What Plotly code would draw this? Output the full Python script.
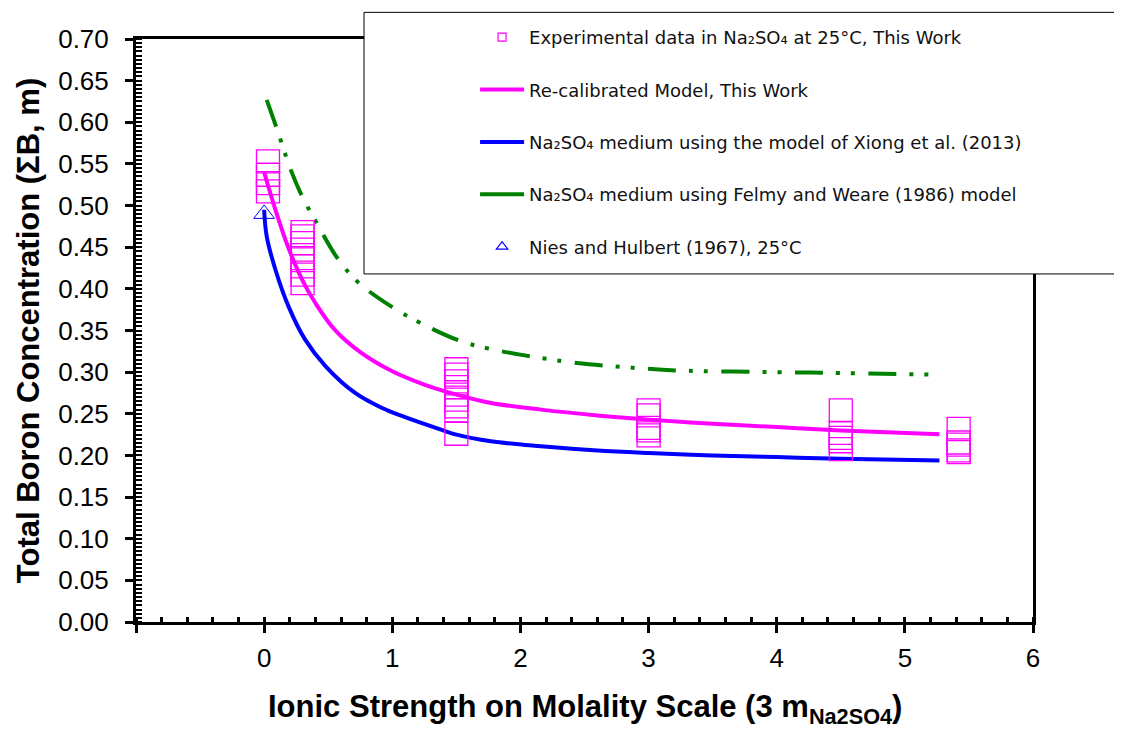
import plotly.graph_objects as go

# ---------------- data ----------------
exp_I = [0.03, 0.03, 0.03, 0.03,
         0.30, 0.30, 0.30, 0.30, 0.30, 0.30, 0.30, 0.30,
         1.50, 1.50, 1.50, 1.50, 1.50, 1.50, 1.50, 1.50, 1.50,
         3.00, 3.00, 3.00, 3.00, 3.00,
         4.50, 4.50, 4.50, 4.50, 4.50,
         5.42, 5.42, 5.42, 5.42, 5.42]
exp_B = [0.553, 0.537, 0.527, 0.517,
         0.468, 0.463, 0.455, 0.447, 0.437, 0.427, 0.417, 0.407,
         0.3035, 0.297, 0.289, 0.282, 0.273, 0.267, 0.259, 0.254, 0.226,
         0.254, 0.248, 0.233, 0.230, 0.224,
         0.254, 0.227, 0.221, 0.217, 0.2075,
         0.232, 0.2155, 0.213, 0.206, 0.204]

recal_I = [0.0, 0.09, 0.19, 0.30, 0.40, 0.55, 0.75, 1.0, 1.25, 1.5, 1.77, 2.16, 2.6, 3.0, 3.5, 4.0, 4.5, 5.27]
recal_B = [0.540, 0.494, 0.449, 0.410, 0.383, 0.351, 0.324, 0.301, 0.285, 0.273, 0.263, 0.255, 0.248, 0.243, 0.238, 0.234, 0.230, 0.2255]

xiong_I = [0.0, 0.02, 0.09, 0.19, 0.32, 0.48, 0.71, 0.92, 1.1, 1.38, 1.5, 1.77, 2.16, 2.6, 3.0, 3.5, 4.0, 4.5, 5.27]
xiong_B = [0.495, 0.463, 0.422, 0.379, 0.339, 0.307, 0.275, 0.257, 0.246, 0.231, 0.225, 0.217, 0.211, 0.206, 0.203, 0.200, 0.198, 0.196, 0.194]

felmy_I = [0.02, 0.10, 0.21, 0.30, 0.41, 0.58, 0.74, 1.0, 1.22, 1.52, 1.76, 2.08, 2.44, 2.9, 3.23, 4.0, 4.5, 5.2]
felmy_B = [0.627, 0.592, 0.542, 0.510, 0.479, 0.435, 0.407, 0.378, 0.359, 0.338, 0.328, 0.319, 0.311, 0.305, 0.302, 0.300, 0.299, 0.297]

nies_I = [0.0]
nies_B = [0.490]

x_tickvals = [-1, 0, 1, 2, 3, 4, 5, 6]
x_ticktext = ["", "0", "1", "2", "3", "4", "5", "6"]

x_title = "<b>Ionic Strength on Molality Scale (3 m<sub>Na2SO4</sub>)</b>"
y_title = "<b>Total Boron Concentration (\u03a3B, m)</b>"

legend_names = [
    "Experimental data in Na\u2082SO\u2084 at 25\u00b0C, This Work",
    "Re-calibrated Model, This Work",
    "Na\u2082SO\u2084 medium using the model of Xiong et al. (2013)",
    "Na\u2082SO\u2084 medium using Felmy and Weare (1986) model",
    "Nies and Hulbert (1967), 25\u00b0C",
]

MAG = "#FF00FF"
BLUE = "#0000FF"
GREEN = "#008000"

fig = go.Figure()

# ---------------- plotted traces ----------------
fig.add_trace(go.Scatter(x=felmy_I, y=felmy_B, mode="lines", showlegend=False,
                         line=dict(color=GREEN, width=4, shape="spline",
                                   dash="28px,13px,4px,11px,4px,13.5px")))
fig.add_trace(go.Scatter(x=xiong_I, y=xiong_B, mode="lines", showlegend=False,
                         line=dict(color=BLUE, width=4, shape="spline")))
fig.add_trace(go.Scatter(x=recal_I, y=recal_B, mode="lines", showlegend=False,
                         line=dict(color=MAG, width=4, shape="spline")))
fig.add_trace(go.Scatter(x=exp_I, y=exp_B, mode="markers", showlegend=False,
                         marker=dict(symbol="square-open", size=23, color=MAG,
                                     line=dict(color=MAG, width=1.3))))
fig.add_trace(go.Scatter(x=nies_I, y=nies_B, mode="markers", showlegend=False,
                         marker=dict(symbol="triangle-up-open", size=18, color=BLUE,
                                     line=dict(color=BLUE, width=1))))

# ---------------- legend entries ----------------
fig.add_trace(go.Scatter(x=[None], y=[None], mode="markers", name=legend_names[0],
                         legendgroup="a",
                         marker=dict(symbol="square-open", size=8, color=MAG,
                                     line=dict(color=MAG, width=1.2))))
fig.add_trace(go.Scatter(x=[None], y=[None], mode="lines", name=legend_names[1],
                         legendgroup="b", line=dict(color=MAG, width=4)))
fig.add_trace(go.Scatter(x=[None], y=[None], mode="lines", name=legend_names[2],
                         legendgroup="c", line=dict(color=BLUE, width=4)))
fig.add_trace(go.Scatter(x=[None], y=[None], mode="lines", name=legend_names[3],
                         legendgroup="d", line=dict(color=GREEN, width=4)))
fig.add_trace(go.Scatter(x=[None], y=[None], mode="markers", name=legend_names[4],
                         legendgroup="e",
                         marker=dict(symbol="triangle-up-open", size=10, color=BLUE,
                                     line=dict(color=BLUE, width=1.2))))

TICKFONT = dict(family="Liberation Sans, Arial, sans-serif", size=26, color="black")
TITLEFONT = dict(family="Liberation Sans, Arial, sans-serif", size=31, color="black")

fig.update_xaxes(
    range=[-1, 6], tickmode="array", tickvals=x_tickvals, ticktext=x_ticktext,
    ticks="outside", ticklen=8, tickwidth=3, tickcolor="black",
    showline=True, linewidth=3, linecolor="black", mirror=True,
    showgrid=False, zeroline=False, tickfont=TICKFONT, ticklabelstandoff=3,
    minor=dict(ticks="inside", dtick=0.2, tick0=0, ticklen=5, tickwidth=2.5,
               tickcolor="black", showgrid=False),
)
fig.update_yaxes(
    range=[0, 0.70], dtick=0.05, tick0=0, tickformat=".2f",
    ticks="outside", ticklen=8, tickwidth=3, tickcolor="black",
    showline=True, linewidth=3, linecolor="black", mirror=True,
    showgrid=False, zeroline=False, tickfont=TICKFONT, ticklabelstandoff=11,
    minor=dict(ticks="inside", dtick=0.005, tick0=0, ticklen=6, tickwidth=2,
               tickcolor="black", showgrid=False),
    title=dict(text=y_title, font=TITLEFONT, standoff=10),
)

# page body has an 8px margin: the figure is sized so the plot sits where the reference has it
fig.update_layout(
    width=1114, height=722,
    margin=dict(l=128, r=89, t=31, b=108, autoexpand=False),
    plot_bgcolor="white", paper_bgcolor="white",
    showlegend=True,
    legend=dict(x=0.378, xanchor="left", y=1.0345, yanchor="top",
                bgcolor="rgba(0,0,0,0)", borderwidth=0,
                traceorder="grouped", tracegroupgap=26,
                font=dict(family="DejaVu Sans, sans-serif", size=18, color="#111111"),
                itemwidth=44),
    shapes=[dict(type="rect", xref="paper", yref="paper",
                 x0=0.2542, x1=1.2, y0=0.597, y1=1.0457,
                 line=dict(color="black", width=1), fillcolor="white", layer="above")],
    annotations=[dict(text=x_title, xref="paper", yref="paper", x=0.5, y=0,
                      xanchor="center", yanchor="middle", yshift=-87,
                      showarrow=False, font=TITLEFONT)],
)

fig.write_html("out.html")
